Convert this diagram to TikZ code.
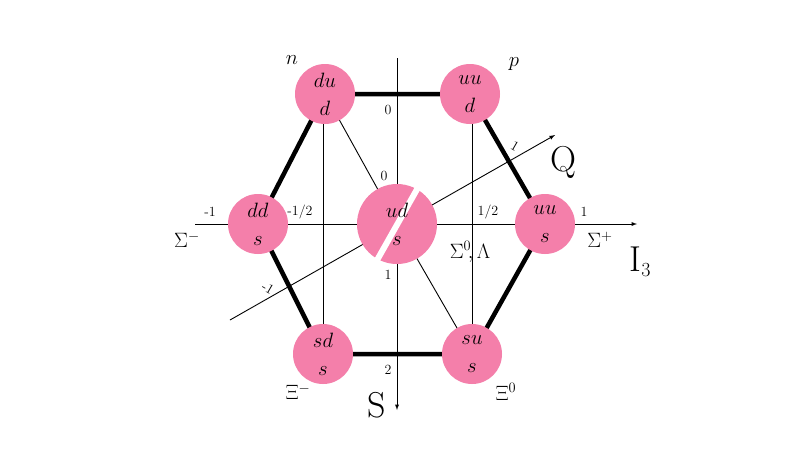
\documentclass[tikz,border=0pt]{standalone}
\usepackage{amsmath}
\begin{document}
\begin{tikzpicture}[x=1pt,y=-1pt,
  q/.style={circle,fill=pk,minimum size=60pt,inner sep=0pt,font=\fontsize{22}{22}\selectfont},
  thick6/.style={line width=4.5pt},
  thin1/.style={line width=0.9pt},
  lab/.style={font=\fontsize{14}{14}\selectfont,inner sep=0pt},
  big/.style={font=\fontsize{36}{36}\selectfont,inner sep=0pt},
  nm/.style={font=\fontsize{20}{20}\selectfont,inner sep=0pt}]
\definecolor{pk}{HTML}{F47FAA}
\newcommand{\qk}[2]{$\genfrac{}{}{0pt}{0}{#1}{#2}$}
\useasboundingbox (0,0) rectangle (800,448);
\fill[white] (0,0) rectangle (800,448);
\coordinate (Itl) at (195,224); \coordinate (Itr) at (637,224);
\coordinate (St) at (397,58); \coordinate (Sb) at (397,410);
\coordinate (Qa) at (230,320); \coordinate (Qb) at (555,135);
\coordinate (N) at (325,94); \coordinate (P) at (470,94);
\coordinate (SM) at (258,224); \coordinate (C) at (397,224);
\coordinate (SP) at (545,224); \coordinate (XM) at (323,354);
\coordinate (XZ) at (472,354);
% thin lines
\draw[thin1,-latex] (Itl) -- (Itr);
\draw[thin1,-latex] (St) -- (Sb);
\draw[thin1,-latex] (Qa) -- (Qb);
\draw[thin1] (323,94) -- (323,354);
\draw[thin1] (472,94) -- (472,354);
\draw[thin1] (N) -- (C) -- (XZ);
% thick hexagon
\draw[thick6] (N) -- (P) -- (SP) -- (XZ) -- (XM) -- (SM) -- cycle;
% nodes
\node[q] (n) at (N) {\qk{du}{d}};
\node[q] (p) at (P) {\qk{uu}{d}};
\node[q] (sm) at (SM) {\qk{dd}{s}};
\node[q] (sp) at (SP) {\qk{uu}{s}};
\node[q] (xm) at (XM) {\qk{sd}{s}};
\node[q] (xz) at (XZ) {\qk{su}{s}};
\node[q,minimum size=80pt] (c) at (C) {};
\draw[white,line width=6pt] (376,262) -- (420,184);
\node[font=\fontsize{22}{22}\selectfont,inner sep=0pt] (ct) at (C) {\qk{ud}{s}};
% labels
\node[nm] (ln) at (292,60) {$n$};
\node[nm] (lp) at (514,64) {$p$};
\node[nm] (lsm) at (187,240) {$\Sigma^-$};
\node[nm] (lsp) at (600,240) {$\Sigma^+$};
\node[nm] (lc) at (470,252) {$\Sigma^0\!,\Lambda$};
\node[nm] (lxm) at (298,392) {$\Xi^-$};
\node[nm] (lxz) at (506,392) {$\Xi^0$};
\node[big] (lQ) at (563,162) {Q};
\node[big] (lS) at (377,405) {S};
\node[big] (lI) at (640,262) {I\raisebox{-0.35ex}{\fontsize{20}{20}\selectfont 3}};
\node[lab] at (210,212) {-1};
\node[lab] at (300,212) {-1/2};
\node[lab] at (488,212) {1/2};
\node[lab] at (584,212) {1};
\node[lab] at (388,110) {0};
\node[lab] at (384,176) {0};
\node[lab] at (388,275) {1};
\node[lab] at (388,370) {2};
\node[lab,rotate=-30] at (515,146) {1};
\node[lab,rotate=-30] at (268,288) {-1};
\end{tikzpicture}
\end{document}
